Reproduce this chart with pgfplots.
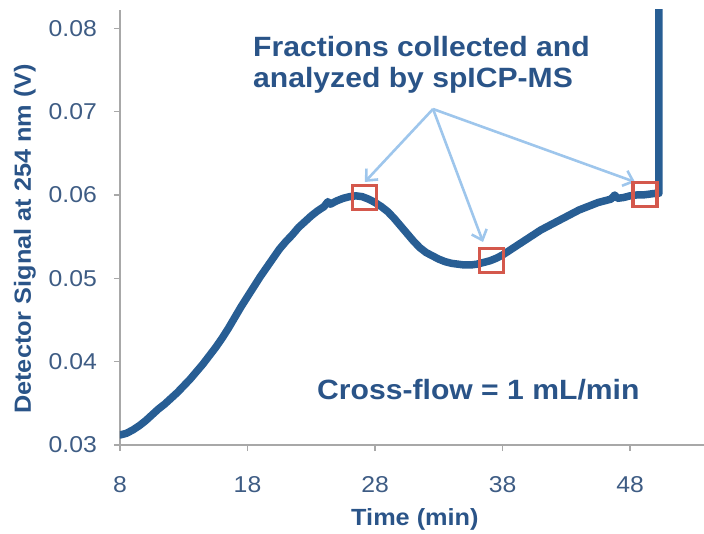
\documentclass[border=0pt]{standalone}
\usepackage{fontspec}
\setmainfont{Liberation Sans}[FakeStretch=1.08]
\usepackage{pgfplots}
\pgfplotsset{compat=1.18}
\usetikzlibrary{arrows.meta}
\definecolor{curve}{RGB}{40,94,148}
\definecolor{labelblue}{RGB}{42,84,136}
\definecolor{tickblue}{RGB}{62,92,132}
\definecolor{axgray}{RGB}{168,168,168}
\definecolor{boxred}{RGB}{212,88,76}
\definecolor{arrowblue}{RGB}{158,198,236}
\pgfplotstableread{
x y
8.0 0.0312
8.5 0.0314
9.0 0.0318
9.5 0.0323
10.0 0.0329
10.5 0.0336
11.0 0.0343
11.5 0.0349
12.0 0.0356
12.5 0.0363
13.0 0.0371
13.5 0.0379
14.0 0.0388
14.5 0.0397
15.0 0.0407
15.5 0.0417
16.0 0.0428
16.5 0.0440
17.0 0.0453
17.5 0.0466
18.0 0.0478
18.5 0.0490
19.0 0.0502
19.5 0.0513
20.0 0.0524
20.5 0.0535
21.0 0.0544
21.5 0.0552
22.0 0.0561
22.5 0.0568
23.0 0.0575
23.5 0.0581
24.0 0.0586
24.3 0.0592
24.5 0.0589
25.0 0.0593
25.5 0.0596
26.0 0.0598
26.5 0.0599
27.0 0.0598
27.5 0.0595
28.0 0.0591
28.5 0.0586
29.0 0.0580
29.5 0.0572
30.0 0.0563
30.5 0.0554
31.0 0.0545
31.5 0.0537
32.0 0.0531
32.5 0.0527
33.0 0.0523
33.5 0.0520
34.0 0.0518
34.5 0.0517
35.0 0.0516
35.5 0.0516
36.0 0.0517
36.5 0.0519
37.0 0.0521
37.5 0.0524
38.0 0.0528
38.5 0.0533
39.0 0.0538
39.5 0.0543
40.0 0.0548
40.5 0.0553
41.0 0.0558
41.5 0.0562
42.0 0.0566
42.5 0.0570
43.0 0.0574
43.5 0.0578
44.0 0.0582
44.5 0.0585
45.0 0.0588
45.5 0.0591
46.0 0.0593
46.5 0.0595
46.8 0.0600
47.0 0.0596
47.5 0.0597
48.0 0.0599
48.5 0.0600
49.0 0.0600
49.5 0.0601
50.0 0.0602
50.27 0.0602
50.27 0.0900
}\signal
\pgfplotstableread{
x y
27.2 0.0597
37.14 0.0521
49.18 0.0601
}\fractions
\begin{document}
\begin{tikzpicture}
\path[use as bounding box] (-120bp,-89bp) rectangle (584bp,445bp);
\begin{axis}[
  scale only axis,
  width=584bp, height=435bp,
  xmin=8, xmax=53.8,
  ymin=0.03, ymax=0.0822,
  axis lines=left,
  axis line style={-, draw=axgray, line width=1.6bp},
  tick align=outside,
  major tick length=6bp,
  tick style={draw=axgray, line width=1.4bp},
  xtick={8,18,28,38,48},
  ytick={0.03,0.04,0.05,0.06,0.07,0.08},
  scaled y ticks=false,
  y tick label style={/pgf/number format/fixed, /pgf/number format/fixed zerofill, /pgf/number format/precision=2},
  /pgf/number format/assume math mode=true,
  tick label style={font=\fontsize{23}{26}\selectfont, text=tickblue, inner sep=0pt},
  yticklabel style={anchor=east, xshift=-17bp},
  xticklabel style={anchor=north, yshift=-25bp},
  xlabel={Time (min)},
  ylabel={Detector Signal at 254 nm (V)},
  every axis x label/.style={at={(axis description cs:0.505,-0.172)}, anchor=center, font=\fontsize{23.5}{26}\selectfont\bfseries, text=labelblue},
  every axis y label/.style={at={(axis description cs:-0.163,0.474)}, rotate=90, anchor=center, font=\fontsize{23.5}{26}\selectfont\bfseries, text=labelblue},
  clip=true,
]
\addplot[curve, line width=7.5bp, line join=round, line cap=round] table[x=x,y=y] {\signal};
\addplot[only marks, mark=square, mark size=12bp, mark options={draw=boxred, line width=3.2bp, fill=none}] table[x=x,y=y] {\fractions};
\draw[arrowblue, line width=2.6bp, -{Straight Barb[length=9bp,width=16bp]}] (axis cs:32.55,0.07032) -- (axis cs:27.2,0.06156);
\draw[arrowblue, line width=2.6bp, -{Straight Barb[length=9bp,width=16bp]}] (axis cs:32.55,0.07032) -- (axis cs:36.47,0.05436);
\draw[arrowblue, line width=2.6bp, -{Straight Barb[length=9bp,width=16bp]}] (axis cs:32.55,0.07032) -- (axis cs:48.39,0.06156);
\node[anchor=base west, inner sep=0pt, text=labelblue, font=\fontsize{28}{31}\selectfont\bfseries] at (axis cs:18.43,0.07656) {Fractions collected and};
\node[anchor=base west, inner sep=0pt, text=labelblue, font=\fontsize{28}{31}\selectfont\bfseries] at (axis cs:18.43,0.07284) {analyzed by spICP-MS};
\node[anchor=base west, inner sep=0pt, text=labelblue, font=\fontsize{28}{31}\selectfont\bfseries] at (axis cs:23.45,0.03552) {Cross-flow = 1 mL/min};
\end{axis}
\end{tikzpicture}
\end{document}
